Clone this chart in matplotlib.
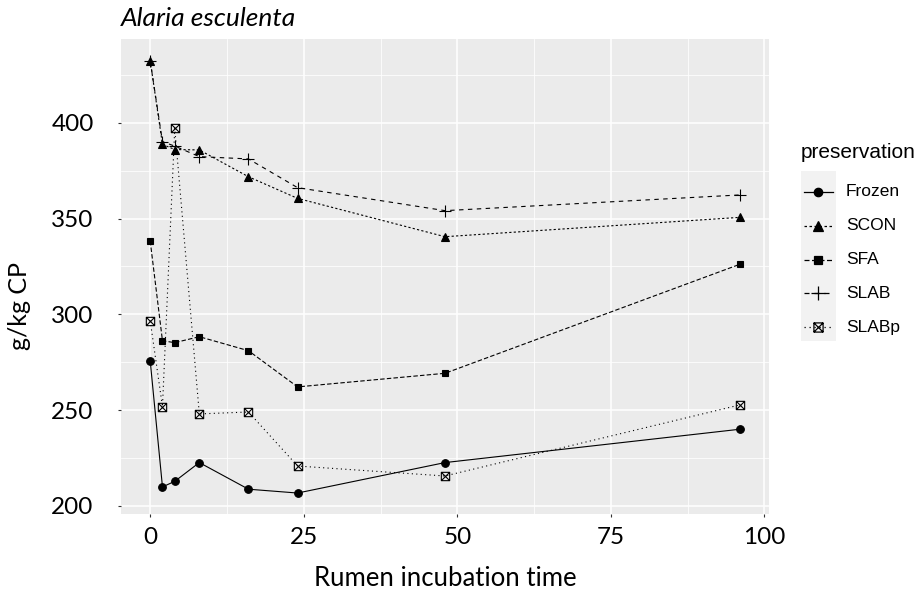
import matplotlib
matplotlib.use("Agg")
import matplotlib.pyplot as plt
from matplotlib.lines import Line2D
from matplotlib.patches import Rectangle
from matplotlib.path import Path

# data (g/kg CP vs rumen incubation time, h)
times = [0, 2, 4, 8, 16, 24, 48, 96]
frozen = [275.8, 209.9, 212.8, 222.6, 208.7, 206.7, 222.6, 240.0]
scon = [432.4, 388.7, 386.0, 385.8, 371.8, 360.5, 340.5, 350.6]
sfa = [338.3, 286.2, 285.2, 288.3, 281.0, 262.1, 269.2, 326.1]
slab = [432.4, 390.1, 387.8, 382.3, 381.1, 366.1, 354.1, 362.3]
slabp = [296.7, 251.8, 397.1, 248.0, 249.0, 220.8, 215.6, 252.7]
groups = ["Frozen", "SCON", "SFA", "SLAB", "SLABp"]

# square with a cross (ggplot shape 7)
sq_cross = Path(
    [(-1, -1), (1, -1), (1, 1), (-1, 1), (-1, -1), (-1, -1), (1, 1), (-1, 1), (1, -1)],
    [Path.MOVETO, Path.LINETO, Path.LINETO, Path.LINETO, Path.CLOSEPOLY,
     Path.MOVETO, Path.LINETO, Path.MOVETO, Path.LINETO],
)

styles = {
    "Frozen": dict(ls="-", marker="o", ms=5.5, mfc="black"),
    "SCON": dict(ls=(0, (2, 2)), marker="^", ms=6, mfc="black"),
    "SFA": dict(ls=(0, (4, 2)), marker="s", ms=5, mfc="black"),
    "SLAB": dict(ls=(0, (4, 4)), marker="+", ms=9, mfc="black"),
    "SLABp": dict(ls=(0, (1, 3)), marker=sq_cross, ms=6, mfc="none"),
}
values = {"Frozen": frozen, "SCON": scon, "SFA": sfa, "SLAB": slab, "SLABp": slabp}

W, H = 923, 590
fig = plt.figure(figsize=(W / 100, H / 100), dpi=100)
ax = fig.add_axes([120.7 / W, 1 - 514.3 / H, (769.3 - 120.7) / W, (514.3 - 39) / H])
ax.set_facecolor("#EBEBEB")

for g in groups:
    st = styles[g]
    ax.plot(times, values[g], color="black", lw=0.8, linestyle=st["ls"],
            marker=st["marker"], markersize=st["ms"], markerfacecolor=st["mfc"],
            markeredgecolor="black", markeredgewidth=0.8, zorder=3)

ax.set_xlim(-4.8, 100.8)
ax.set_ylim(195.6, 443.7)
ax.set_xticks([0, 25, 50, 75, 100])
ax.set_yticks([200, 250, 300, 350, 400])
ax.set_xticks([12.5, 37.5, 62.5, 87.5], minor=True)
ax.set_yticks([225, 275, 325, 375, 425], minor=True)
ax.grid(which="major", color="white", lw=1.1)
ax.grid(which="minor", color="white", lw=0.55)
ax.set_axisbelow(True)
for s in ax.spines.values():
    s.set_visible(False)
ax.tick_params(which="major", length=2.5, width=0.8, color="#333333",
               labelsize=17.5, labelcolor="black")
ax.tick_params(axis="y", pad=17)
ax.tick_params(axis="x", pad=7)
ax.tick_params(which="minor", length=0)
for lab in ax.get_xticklabels() + ax.get_yticklabels():
    lab.set_fontfamily("Lato")

fig.text(20 / W, 1 - 306 / H, "g/kg CP", rotation=90, ha="center", va="center",
         fontsize=18, family="Lato")
fig.text((120.7 + 769.3) / 2 / W, 1 - 578 / H, "Rumen incubation time",
         ha="center", va="center", fontsize=18.5, family="Lato")
fig.text(121 / W, 1 - 18 / H, "Alaria esculenta", ha="left", va="center",
         fontsize=19, family="Lato", style="italic")

# legend drawn by hand to mimic the ggplot guide
fig.text(801 / W, 1 - 153 / H, "preservation", ha="left", va="center",
         fontsize=15, family="Liberation Sans")
fig.add_artist(Rectangle((801 / W, 1 - 340.7 / H), 35 / W, 170 / H,
                         transform=fig.transFigure, facecolor="#F2F2F2",
                         edgecolor="none", zorder=1))
for i, g in enumerate(groups):
    y = 1 - (191.7 + i * 33.9) / H
    st = styles[g]
    fig.add_artist(Line2D([804 / W, 833 / W], [y, y], transform=fig.transFigure,
                          color="black", lw=0.9, linestyle=st["ls"], zorder=2))
    fig.add_artist(Line2D([818 / W], [y], transform=fig.transFigure, color="black",
                          marker=st["marker"], markersize=st["ms"] * 1.1,
                          markerfacecolor=st["mfc"], markeredgecolor="black",
                          markeredgewidth=0.9, linestyle="none", zorder=3))
    fig.text(846 / W, y, g, ha="left", va="center", fontsize=12.5,
             family="Liberation Sans")

fig.savefig("out.png", dpi=100)
